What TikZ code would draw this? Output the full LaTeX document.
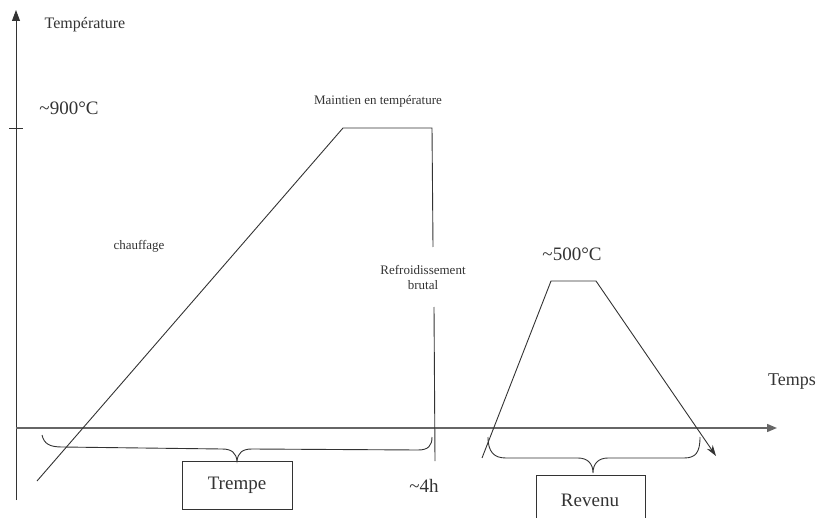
\documentclass[tikz,border=0pt]{standalone}
\usepackage{fontspec}
\setmainfont{Liberation Serif}
\usetikzlibrary{arrows.meta}
\definecolor{ink}{HTML}{333333}
\definecolor{axisgray}{HTML}{666666}
\tikzset{
  curve/.style={draw=ink, line width=0.9pt},
  axisline/.style={draw=axisgray, line width=1.4pt, -{Triangle[length=10pt,width=8pt]}},
  lbl/.style={inner sep=0pt, text=ink, font=\fontsize{13}{15}\selectfont},
  biglbl/.style={inner sep=0pt, text=ink, font=\fontsize{19}{22}\selectfont},
  boxlbl/.style={draw=ink, line width=0.9pt, inner sep=0pt, text=ink, font=\fontsize{19}{22}\selectfont}
}
\begin{document}
\begin{tikzpicture}[x=1pt,y=-1pt]
\useasboundingbox (0,0) rectangle (818,518);
% axes
\coordinate (ybot) at (16,500);
\coordinate (ytop) at (16,10);
\coordinate (xl) at (16,428);
\coordinate (xr) at (777,428);
\draw[curve, -{Triangle[length=11pt,width=8pt]}] (ybot) -- (ytop);
\draw[axisline] (xl) -- (xr);
\coordinate (tickL) at (9,128);
\coordinate (tickR) at (23,128);
\draw[curve] (tickL) -- (tickR);
% labels of axes
\node[lbl, font=\fontsize{16}{18}\selectfont] (ylab) at (85,25) {Température};
\node[biglbl] (t900) at (69,108) {\char`~900°C};
\node[lbl, font=\fontsize{18}{20}\selectfont] (xlab) at (792,382) {Temps};
% trempe profile
\coordinate (h0) at (37,481);
\coordinate (h1) at (343,128);
\coordinate (h2) at (432,128);
\coordinate (c1) at (433,247);
\coordinate (c2) at (434,307);
\coordinate (c3) at (435,461);
\draw[curve] (h0) -- (h1) -- (h2) -- (c1);
\draw[curve] (c2) -- (c3);
\node[lbl] (maint) at (378,101) {Maintien en température};
\node[lbl] (chauf) at (139,246) {chauffage};
\node[lbl, align=center] (refr) at (423,277) {Refroidissement\\brutal};
% trempe brace
\coordinate (bt1) at (42,435);
\coordinate (bt2) at (237,461);
\coordinate (bt3) at (432,437);
\draw[curve] (bt1) .. controls (44,444) and (50,447) .. (62,447)
  -- (222,449) .. controls (232,449) and (236,453) .. (bt2)
  .. controls (238,453) and (242,449) .. (252,449)
  -- (418,450) .. controls (428,450) and (432,446) .. (bt3);
\node[boxlbl, minimum width=110pt, minimum height=48pt] (trempe) at (237,485) {Trempe};
\node[biglbl] (h4) at (424,486) {\char`~4h};
% revenu profile
\coordinate (r0) at (482,458);
\coordinate (r1) at (551,281);
\coordinate (r2) at (596,281);
\coordinate (r3) at (716,456);
\draw[curve, -{Stealth[length=11pt,width=7pt]}] (r0) -- (r1) -- (r2) -- (r3);
\node[biglbl] (t500) at (572,254) {\char`~500°C};
% revenu brace
\coordinate (br1) at (488,437);
\coordinate (br2) at (593,473);
\coordinate (br3) at (700,437);
\draw[curve] (br1) .. controls (488,452) and (494,458) .. (506,458)
  -- (578,458) .. controls (588,458) and (593,464) .. (br2)
  .. controls (593,464) and (598,458) .. (608,458)
  -- (684,458) .. controls (696,458) and (700,452) .. (br3);
\node[boxlbl, minimum width=109pt, minimum height=52pt, anchor=north] (revenu) at (590.5,475) {};
\node[biglbl] (revtxt) at (590,500) {Revenu};
\end{tikzpicture}
\end{document}
